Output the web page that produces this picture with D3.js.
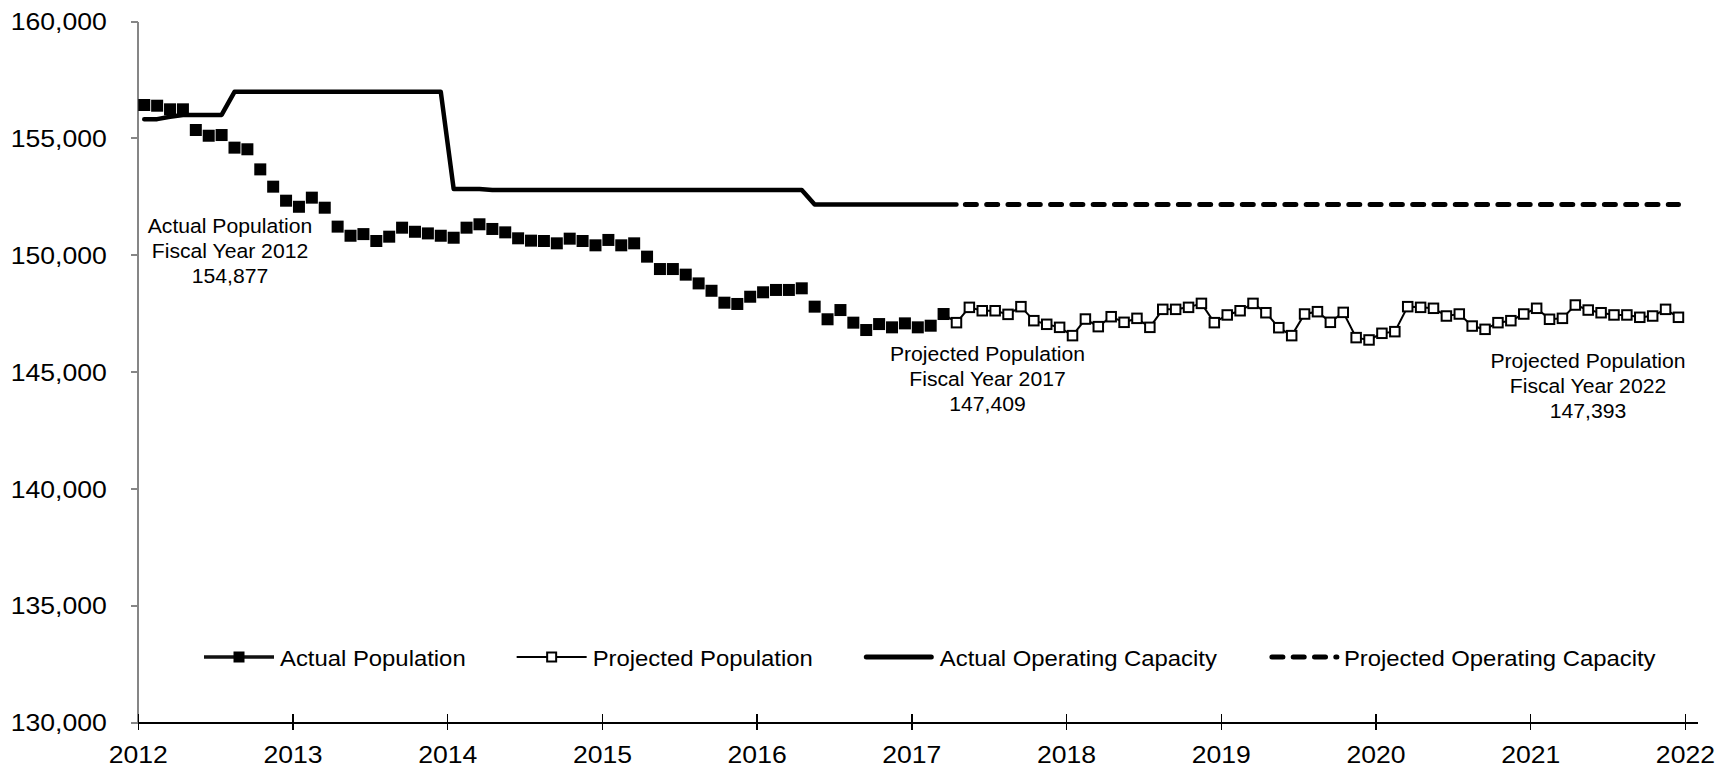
<!DOCTYPE html>
<html lang="en">
<head>
<meta charset="UTF-8">
<title>Population and Operating Capacity</title>
<script src="https://cdn.jsdelivr.net/npm/d3@7"></script>
<style>
  body { margin: 0; background: #fff; }
  svg { display: block; font-family: "Liberation Sans", Arial, sans-serif; }
</style>
</head>
<body>
<svg id="chart" width="1733" height="770"></svg>
<script>
// tick labels
const years = ["2012", "2013", "2014", "2015", "2016", "2017", "2018", "2019", "2020", "2021", "2022"];
const yTicks = [130000, 135000, 140000, 145000, 150000, 155000, 160000];

// monthly values, month 0 = first month of FY2012
const actualPop = [
  156405, 156375, 156220, 156220, 155335, 155090, 155120, 154580, 154510, 153650,
  152910, 152310, 152050, 152440, 152010, 151200, 150810, 150880, 150585, 150770,
  151155, 150980, 150910, 150810, 150725, 151155, 151300, 151100, 150955, 150700,
  150600, 150585, 150485, 150685, 150585, 150400, 150630, 150400, 150485, 149915,
  149385, 149385, 149145, 148770, 148455, 147945, 147890, 148200, 148390, 148490,
  148490, 148560, 147775, 147235, 147630, 147090, 146775, 147030, 146890, 147060,
  146890, 146960, 147460
];
// starts at month 63
const projPop = [
  147090, 147745, 147600, 147600, 147445, 147775, 147175, 147020, 146890, 146535,
  147245, 146920, 147345, 147105, 147275, 146890, 147660, 147660, 147745, 147915,
  147090, 147420, 147600, 147915, 147515, 146875, 146535, 147460, 147560, 147105,
  147530, 146450, 146350, 146635, 146705, 147775, 147745, 147705, 147375, 147460,
  146945, 146805, 147090, 147175, 147460, 147705, 147235, 147275, 147845, 147630,
  147515, 147420, 147420, 147320, 147375, 147660, 147320
];
// months 0..63
const actualCap = [
  155800, 155800, 155900, 155980, 155980, 155980, 155980, 156970, 156970, 156970,
  156970, 156970, 156970, 156970, 156970, 156970, 156970, 156970, 156970, 156970,
  156970, 156970, 156970, 156970, 152810, 152810, 152810, 152770, 152770, 152770,
  152770, 152770, 152770, 152770, 152770, 152770, 152770, 152770, 152770, 152770,
  152770, 152770, 152770, 152770, 152770, 152770, 152770, 152770, 152770, 152770,
  152770, 152770, 152150, 152150, 152150, 152150, 152150, 152150, 152150, 152150,
  152150, 152150, 152150, 152150
];
// months 63..119
const projCap = [
  152150, 152150, 152150, 152150, 152150, 152150, 152150, 152150, 152150, 152150,
  152150, 152150, 152150, 152150, 152150, 152150, 152150, 152150, 152150, 152150,
  152150, 152150, 152150, 152150, 152150, 152150, 152150, 152150, 152150, 152150,
  152150, 152150, 152150, 152150, 152150, 152150, 152150, 152150, 152150, 152150,
  152150, 152150, 152150, 152150, 152150, 152150, 152150, 152150, 152150, 152150,
  152150, 152150, 152150, 152150, 152150, 152150, 152150
];
const projStart = 63;

const legendNames = ["Actual Population", "Projected Population", "Actual Operating Capacity", "Projected Operating Capacity"];
const noteTexts = [
  ["Actual Population", "Fiscal Year 2012", "154,877"],
  ["Projected Population", "Fiscal Year 2017", "147,409"],
  ["Projected Population", "Fiscal Year 2022", "147,393"]
];

const W = 1733, H = 770;
const SX = 1.085; // the source text is slightly wide
const svg = d3.select("#chart");
svg.append("rect").attr("width", W).attr("height", H).attr("fill", "#fff");

const nCats = 121;
const x = d3.scaleLinear().domain([0, nCats]).range([137.8, 1697.8]);
const cx = i => x(i + 0.5);
const y = d3.scaleLinear().domain([130000, 160000]).range([722, 21]);

// y axis
const yAxis = svg.append("g")
  .attr("transform", `translate(${x(0)},0)`)
  .call(d3.axisLeft(y).tickValues(yTicks).tickFormat(d3.format(",")).tickSize(7).tickSizeOuter(0).tickPadding(24));
yAxis.select(".domain").attr("stroke", "#868686").attr("stroke-width", 2);
yAxis.selectAll(".tick line").attr("stroke", "#868686").attr("stroke-width", 2);
yAxis.selectAll(".tick text")
  .attr("fill", "#000").attr("font-size", 24.5)
  .attr("x", -31 / SX).attr("dy", "0.36em")
  .attr("transform", `scale(${SX},1)`);

// x axis
const xAxis = svg.append("g")
  .attr("transform", `translate(0,${y(130000)})`)
  .call(d3.axisBottom(x).tickValues(d3.range(0, 121, 12)).tickFormat((d, k) => years[k]).tickSizeOuter(0));
xAxis.select(".domain").attr("stroke", "#000").attr("stroke-width", 2);
xAxis.selectAll(".tick line").attr("stroke", "#000").attr("stroke-width", 1.5).attr("y1", -8).attr("y2", 8);
xAxis.selectAll(".tick text")
  .attr("fill", "#000").attr("font-size", 24.5)
  .attr("y", 41).attr("dy", 0)
  .attr("transform", `scale(${SX},1)`);
svg.selectAll(".domain, .tick line").attr("shape-rendering", "crispEdges");

// capacity lines
const capLine = off => d3.line().x((d, i) => cx(i + off)).y(d => y(d));
svg.append("path").datum(actualCap)
  .attr("d", capLine(0))
  .attr("fill", "none").attr("stroke", "#000").attr("stroke-width", 4.5)
  .attr("stroke-linejoin", "round").attr("stroke-linecap", "round");
svg.append("path").datum(projCap)
  .attr("d", capLine(projStart))
  .attr("fill", "none").attr("stroke", "#000").attr("stroke-width", 5)
  .attr("stroke-dasharray", "11 10.3").attr("stroke-dashoffset", 12.4)
  .attr("stroke-linecap", "round");

// actual population markers
svg.append("g").selectAll("rect").data(actualPop).join("rect")
  .attr("x", (d, i) => cx(i) - 6).attr("y", d => y(d) - 6)
  .attr("width", 12).attr("height", 12).attr("fill", "#000");

// projected population, joined to the last actual month
const projLineData = [[projStart - 1, actualPop[actualPop.length - 1]]]
  .concat(projPop.map((v, i) => [projStart + i, v]));
svg.append("path").datum(projLineData)
  .attr("d", d3.line().x(d => cx(d[0])).y(d => y(d[1])))
  .attr("fill", "none").attr("stroke", "#000").attr("stroke-width", 2);
svg.append("g").selectAll("rect").data(projPop).join("rect")
  .attr("x", (d, i) => cx(projStart + i) - 4.75).attr("y", d => y(d) - 4.75)
  .attr("width", 9.5).attr("height", 9.5)
  .attr("fill", "#fff").attr("stroke", "#000").attr("stroke-width", 2);

// annotations
const noteSpots = [[230, 232.7], [987.5, 361], [1588, 368.3]];
noteTexts.forEach((lines, k) => {
  lines.forEach((t, j) => {
    svg.append("text")
      .attr("transform", `translate(${noteSpots[k][0]},${noteSpots[k][1] + j * 25}) scale(${SX},1)`)
      .attr("text-anchor", "middle").attr("font-size", 19.5).attr("fill", "#000")
      .text(t);
  });
});

// legend
const legY = 657;
let lx = 204;
legendNames.forEach((name, k) => {
  const g = svg.append("g");
  if (k === 0) {
    g.append("line").attr("x1", lx).attr("x2", lx + 70).attr("y1", legY).attr("y2", legY)
      .attr("stroke", "#111").attr("stroke-width", 3.5);
    g.append("rect").attr("x", lx + 35 - 5.5).attr("y", legY - 5.5).attr("width", 11).attr("height", 11).attr("fill", "#000");
  } else if (k === 1) {
    g.append("line").attr("x1", lx).attr("x2", lx + 70).attr("y1", legY).attr("y2", legY)
      .attr("stroke", "#000").attr("stroke-width", 2);
    g.append("rect").attr("x", lx + 35 - 4.5).attr("y", legY - 4.5).attr("width", 9).attr("height", 9)
      .attr("fill", "#fff").attr("stroke", "#000").attr("stroke-width", 2);
  } else if (k === 2) {
    g.append("line").attr("x1", lx + 2.5).attr("x2", lx + 67.5).attr("y1", legY).attr("y2", legY)
      .attr("stroke", "#000").attr("stroke-width", 5).attr("stroke-linecap", "round");
  } else {
    g.append("line").attr("x1", lx + 4).attr("x2", lx + 69).attr("y1", legY).attr("y2", legY)
      .attr("stroke", "#000").attr("stroke-width", 5).attr("stroke-linecap", "round")
      .attr("stroke-dasharray", "11 10.3");
  }
  const tx = lx + 76;
  const txt = g.append("text")
    .attr("transform", `translate(${tx},${legY + 8.5}) scale(${SX},1)`)
    .attr("font-size", 22).attr("fill", "#000").text(name);
  lx = tx + txt.node().getComputedTextLength() * SX + 51;
});
</script>
</body>
</html>
